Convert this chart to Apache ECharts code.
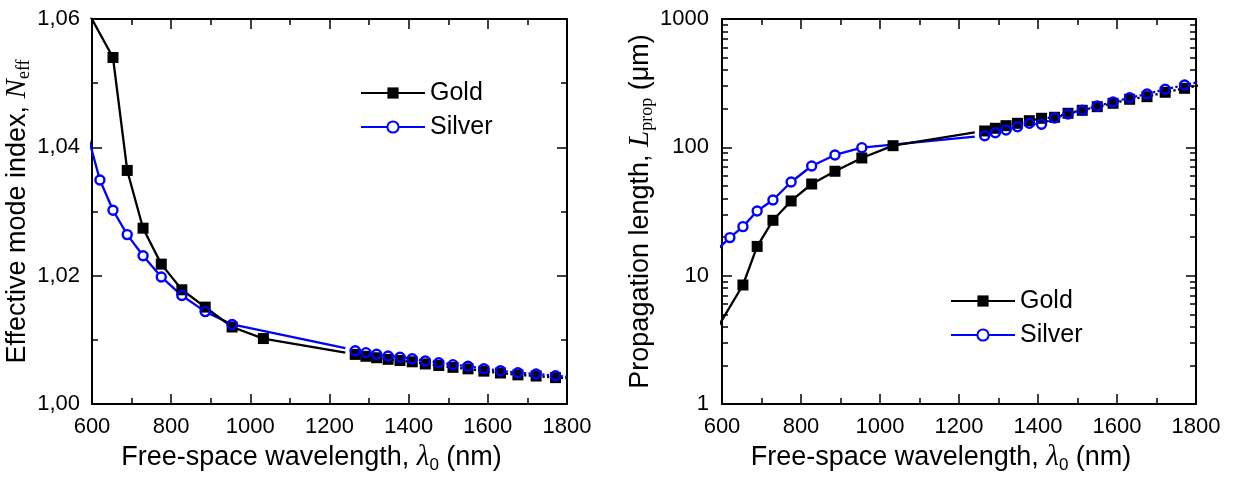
<!DOCTYPE html>
<html>
<head>
<meta charset="utf-8">
<script src="https://cdn.jsdelivr.net/npm/echarts@6/dist/echarts.min.js"></script>
<style>
  html, body { margin: 0; padding: 0; background: #fff; }
  #chart { width: 1239px; height: 477px; }
</style>
</head>
<body>
<div id="chart"></div>
<script>
// Sampled free-space wavelengths (nm)
const wlGold = [653, 689, 729, 775, 827, 886, 954, 1033];
const wlSilver = [620, 653, 689, 729, 775, 827, 886, 954];
const wlIR = [1265, 1292, 1319, 1348, 1378, 1409, 1442, 1476, 1512, 1550, 1590, 1632, 1676, 1722, 1771];
// Unmarked trace points: below the axis start, end of the solid part, past the axis end
const wlEnds = [590, 1240, 1823];

// Effective mode index N_eff
const neffGold = [1.0540, 1.0364, 1.0274, 1.0218, 1.0178, 1.0151, 1.0120, 1.0102];
const neffGoldIR = [1.00773, 1.00744, 1.00721, 1.00696, 1.00678, 1.00658, 1.00624, 1.00600,
                    1.00571, 1.00548, 1.00512, 1.00483, 1.00454, 1.00436, 1.00411];
const neffGoldEnds = [1.0611, 1.0080, 1.0039];
const neffSilver = [1.0349, 1.0302, 1.0264, 1.0231, 1.0198, 1.0169, 1.0144, 1.0124];
const neffSilverIR = [1.00831, 1.00800, 1.00775, 1.00748, 1.00728, 1.00706, 1.00670, 1.00644,
                      1.00613, 1.00588, 1.00550, 1.00519, 1.00488, 1.00468, 1.00441];
const neffSilverEnds = [1.0417, 1.0087, 1.0041];

// Propagation length L_prop (µm)
const lpGold = [8.46, 16.9, 27.0, 38.2, 51.8, 65.1, 82.6, 103.0];
const lpGoldIR = [134.1, 140.8, 147.5, 153.9, 161.3, 168.4, 171.5, 184.2,
                  194.4, 207.4, 220.4, 236.8, 248.1, 268.5, 288.4];
const lpGoldEnds = [4.0, 131, 310];
const lpSilver = [19.8, 24.1, 31.9, 38.9, 53.7, 71.5, 87.2, 99.4];
const lpSilverIR = [123.2, 130.0, 136.5, 144.8, 153.9, 151.2, 169.3, 181.9,
                    194.4, 210.0, 225.6, 243.7, 260.4, 283.4, 306.0];
const lpSilverEnds = [16.2, 121, 331];

// Axis tick labels
const wlTicks = [600, 800, 1000, 1200, 1400, 1600, 1800];
const neffTicks = [1.00, 1.02, 1.04, 1.06];
const lpTicks = [1, 10, 100, 1000];

const SANS = '"Liberation Sans", Arial, Helvetica, sans-serif';
const SERIF = '"Liberation Serif", "Times New Roman", serif';
const BLUE = '#0000ff';
const BLACK = '#000000';
const LINE_W = 2.3;

const pairs = (xs, ys) => xs.map((x, i) => [x, ys[i]]);
const unmarked = (x, y) => ({ value: [x, y], symbol: 'none' });

const nameStyle = {
  fontFamily: SANS, fontSize: 27, color: BLACK,
  rich: {
    t: { fontFamily: SANS, fontSize: 27, lineHeight: 32, color: BLACK },
    it: { fontFamily: SERIF, fontStyle: 'italic', fontSize: 29, lineHeight: 32, color: BLACK },
    sub: { fontFamily: SERIF, fontSize: 18, lineHeight: 18, verticalAlign: 'bottom', color: BLACK },
    subs: { fontFamily: SANS, fontSize: 17, lineHeight: 17, verticalAlign: 'bottom', color: BLACK }
  }
};

const tickLabel = { color: BLACK, fontFamily: SANS, fontSize: 22 };
const axisLine = { show: true, onZero: false, lineStyle: { color: BLACK, width: 2 } };
const majorTick = { show: true, inside: true, length: 10, lineStyle: { color: BLACK, width: 1.5 } };
const minorTick = { show: true, splitNumber: 2, length: 6, lineStyle: { color: BLACK, width: 1.5 } };

// log-axis minor tick positions 2..9 within each decade
const logMinor = [1, 10, 100].flatMap(d => [2, 3, 4, 5, 6, 7, 8, 9].map(m => m * d));

function wavelengthAxes(g) {
  const base = {
    gridIndex: g, type: 'value', min: wlTicks[0], max: wlTicks[wlTicks.length - 1],
    interval: wlTicks[1] - wlTicks[0],
    axisLine, axisTick: majorTick, minorTick, splitLine: { show: false }, minorSplitLine: { show: false }
  };
  return [
    Object.assign({}, base, {
      position: 'bottom',
      axisLabel: Object.assign({ margin: 12, formatter: v => String(v) }, tickLabel),
      name: '{t|Free-space wavelength, }{it|λ}{subs|0}{t| (nm)}',
      nameLocation: 'middle', nameGap: 33,
      nameTextStyle: Object.assign({ padding: [0, 36, 0, 0] }, nameStyle)
    }),
    Object.assign({}, base, { position: 'top', axisLabel: { show: false } })
  ];
}

const neffBase = {
  gridIndex: 0, type: 'value', min: neffTicks[0], max: neffTicks[neffTicks.length - 1],
  interval: neffTicks[1] - neffTicks[0],
  axisLine, axisTick: majorTick, minorTick, splitLine: { show: false }, minorSplitLine: { show: false }
};

const lpBase = {
  gridIndex: 1, type: 'log', logBase: 10, min: lpTicks[0], max: lpTicks[lpTicks.length - 1],
  axisLine, axisTick: majorTick, splitLine: { show: false }
};
const lpMinor = Object.assign({}, lpBase, {
  axisLine: { show: false }, axisLabel: { show: false },
  axisTick: { show: true, inside: true, length: 6, customValues: logMinor, lineStyle: { color: BLACK, width: 1.5 } }
});

const yAxes = [
  Object.assign({}, neffBase, {
    position: 'left',
    axisLabel: Object.assign({ margin: 12, formatter: v => v.toFixed(2).replace('.', ',') }, tickLabel),
    name: '{t|Effective mode index, }{it|N}{sub|eff}',
    nameLocation: 'middle', nameGap: 52, nameTextStyle: nameStyle
  }),
  Object.assign({}, neffBase, { position: 'right', axisLabel: { show: false } }),
  Object.assign({}, lpBase, {
    position: 'left',
    axisLabel: Object.assign({ margin: 13, formatter: v => String(Math.round(v)) }, tickLabel),
    name: '{t|Propagation length, }{it|L}{sub|prop}{t| (μm)}',
    nameLocation: 'middle', nameGap: 62, nameTextStyle: nameStyle
  }),
  Object.assign({}, lpMinor, { position: 'left' }),
  Object.assign({}, lpBase, { position: 'right', axisLabel: { show: false } }),
  Object.assign({}, lpMinor, { position: 'right' })
];

// One panel: solid visible-range traces, dotted infrared traces, hollow silver circles over gold squares
function panelSeries(xi, yi, gold, goldIR, goldEnds, silver, silverIR, silverEnds) {
  const ax = { xAxisIndex: xi, yAxisIndex: yi, animation: false, silent: true };
  const silverMarks = pairs(wlSilver, silver).concat(pairs(wlIR, silverIR));
  return [
    Object.assign({
      type: 'line', name: 'Silver', z: 2,
      data: [[wlEnds[0], silverEnds[0]]].concat(pairs(wlSilver, silver), [[wlEnds[1], silverEnds[1]]]),
      showSymbol: false, symbol: 'emptyCircle', symbolSize: 9,
      itemStyle: { color: BLUE, borderWidth: 2 },
      lineStyle: { color: BLUE, width: LINE_W }
    }, ax),
    Object.assign({
      type: 'line', name: 'Silver IR', z: 2,
      data: pairs(wlIR, silverIR).concat([[wlEnds[2], silverEnds[2]]]),
      showSymbol: false, lineStyle: { color: BLUE, width: LINE_W, type: 'dotted' }
    }, ax),
    Object.assign({
      type: 'scatter', name: 'Silver fill', z: 3, data: silverMarks,
      symbol: 'circle', symbolSize: 9, itemStyle: { color: '#ffffff', opacity: 1 }
    }, ax),
    Object.assign({
      type: 'line', name: 'Gold', z: 4,
      data: [unmarked(wlEnds[0], goldEnds[0])].concat(pairs(wlGold, gold), [unmarked(wlEnds[1], goldEnds[1])]),
      symbol: 'rect', symbolSize: 11, showAllSymbol: true,
      itemStyle: { color: BLACK }, lineStyle: { color: BLACK, width: LINE_W }
    }, ax),
    Object.assign({
      type: 'line', name: 'Gold IR', z: 4,
      data: pairs(wlIR, goldIR).concat([unmarked(wlEnds[2], goldEnds[2])]),
      symbol: 'rect', symbolSize: 11, showAllSymbol: true,
      itemStyle: { color: BLACK }, lineStyle: { color: BLACK, width: LINE_W, type: 'dotted' }
    }, ax),
    Object.assign({
      type: 'scatter', name: 'Silver ring', z: 5, data: silverMarks,
      symbol: 'circle', symbolSize: 9,
      itemStyle: { color: 'rgba(255,255,255,0)', borderColor: BLUE, borderWidth: 2.4, opacity: 1 }
    }, ax)
  ];
}

const legendBase = {
  data: ['Gold', 'Silver'], orient: 'vertical', selectedMode: false, padding: 0,
  itemWidth: 64, itemHeight: 14, itemGap: 8,
  textStyle: { color: BLACK, fontFamily: SANS, fontSize: 25, lineHeight: 26 }
};

const chart = echarts.init(document.getElementById('chart'), null, { renderer: 'canvas' });
chart.setOption({
  backgroundColor: '#ffffff',
  animation: false,
  grid: [
    { left: 92, top: 19, width: 475, height: 385, outerBoundsMode: 'none', containLabel: false },
    { left: 722, top: 19, width: 474, height: 385, outerBoundsMode: 'none', containLabel: false }
  ],
  legend: [
    Object.assign({ left: 360, top: 80 }, legendBase),
    Object.assign({ left: 950, top: 288 }, legendBase)
  ],
  xAxis: wavelengthAxes(0).concat(wavelengthAxes(1)),
  yAxis: yAxes,
  series: panelSeries(0, 0, neffGold, neffGoldIR, neffGoldEnds, neffSilver, neffSilverIR, neffSilverEnds)
    .concat(panelSeries(2, 2, lpGold, lpGoldIR, lpGoldEnds, lpSilver, lpSilverIR, lpSilverEnds))
});
</script>
</body>
</html>
